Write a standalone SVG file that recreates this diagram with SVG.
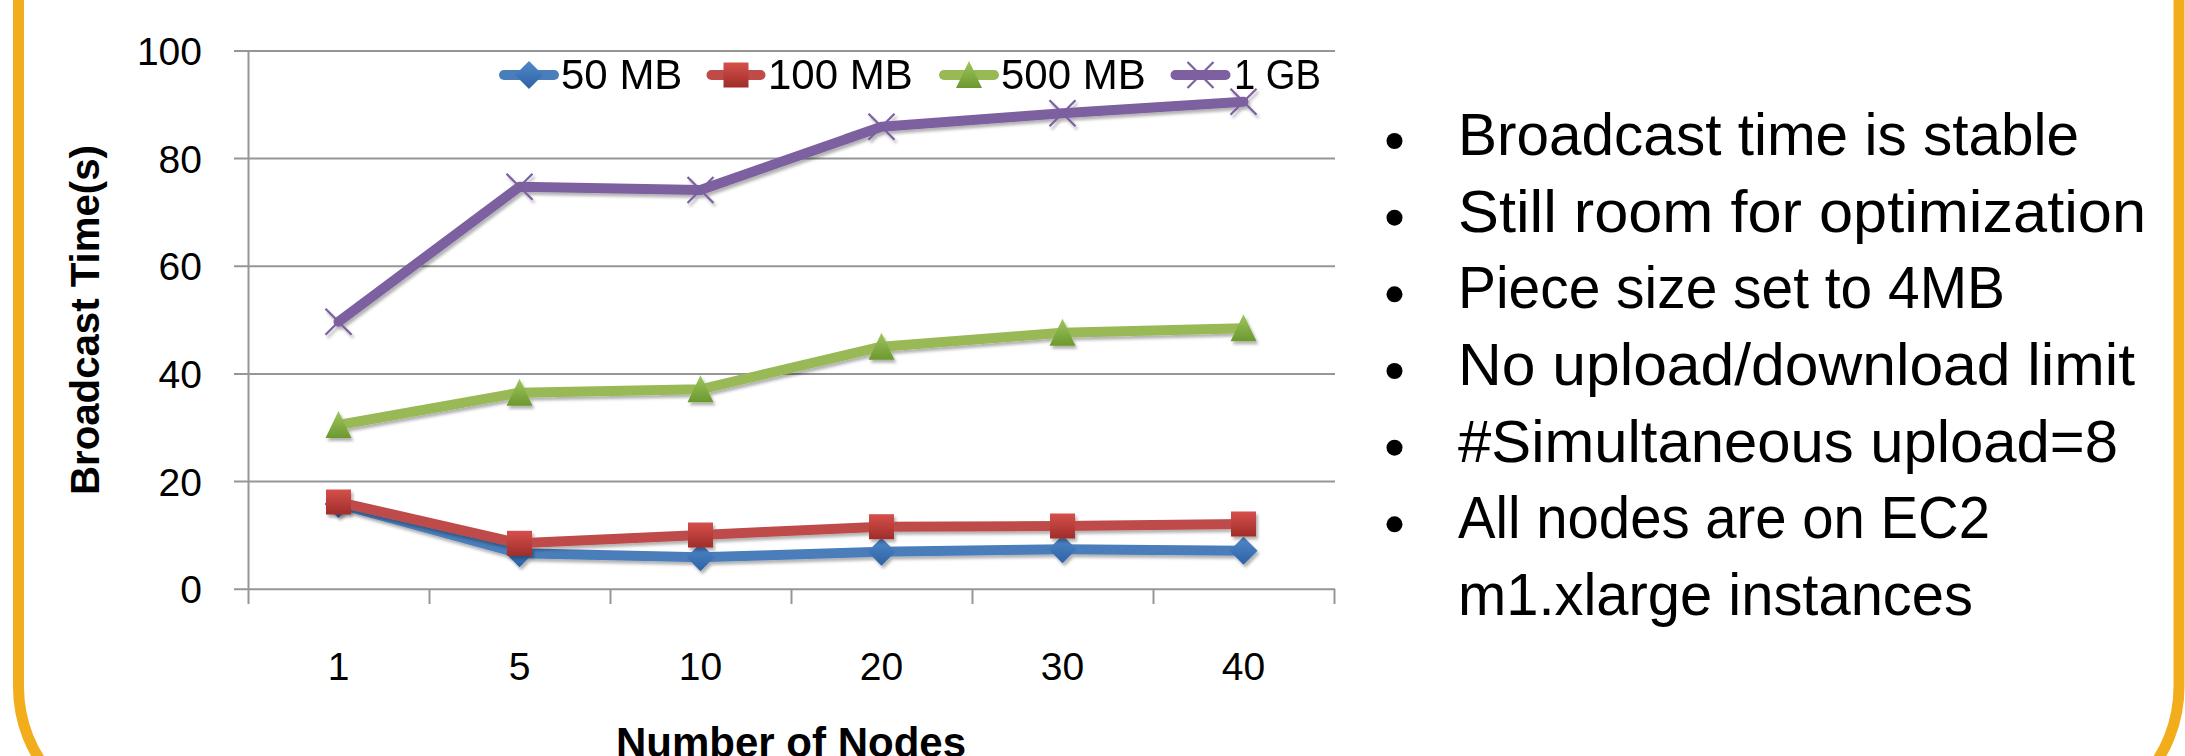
<svg xmlns="http://www.w3.org/2000/svg" width="2185" height="756" viewBox="0 0 2185 756">
<style>
.grid{stroke:#969696;stroke-width:2;fill:none}
.tick{font-family:"Liberation Sans",Arial,sans-serif;font-size:39px;fill:#000}
.leg{font-family:"Liberation Sans",Arial,sans-serif;font-size:42px;fill:#000}
.ttl{font-family:"Liberation Sans",Arial,sans-serif;font-weight:bold;fill:#000}
.bul{font-family:"Liberation Sans",Arial,sans-serif;font-size:59px;fill:#000}
.ln{fill:none;stroke-width:10;stroke-linejoin:round;stroke-linecap:round}
.lgl{fill:none;stroke-width:10;stroke-linecap:round}
</style>
<defs>
<linearGradient id="gB" x1="0" y1="0" x2="0" y2="1"><stop offset="0" stop-color="#5089cb"/><stop offset="1" stop-color="#2d62a3"/></linearGradient>
<linearGradient id="gR" x1="0" y1="0" x2="0" y2="1"><stop offset="0" stop-color="#d6504b"/><stop offset="1" stop-color="#9f2d2a"/></linearGradient>
<linearGradient id="gG" x1="0" y1="0" x2="0" y2="1"><stop offset="0" stop-color="#9fc65e"/><stop offset="1" stop-color="#6b982e"/></linearGradient>
<filter id="sh" x="-40%" y="-40%" width="180%" height="180%"><feDropShadow dx="2" dy="3" stdDeviation="1.8" flood-color="#000" flood-opacity="0.3"/></filter>
<path id="mD" d="M0,-14 L14,0 L0,14 L-14,0 Z" fill="url(#gB)"/>
<rect id="mS" x="-12.5" y="-12.5" width="25" height="25" fill="url(#gR)"/>
<path id="mT" d="M0,-14 L13,13 L-13,13 Z" fill="url(#gG)"/>
<path id="mX" d="M-13,-13 L13,13 M-13,13 L13,-13" stroke="#7b5fa0" stroke-width="2.2" fill="none"/>
</defs>
<rect width="2185" height="756" fill="#fff"/>
<g id="frame"><rect x="18.5" y="-400" width="2160.5" height="1222" rx="135" ry="135" fill="none" stroke="#f1ad1b" stroke-width="11"/></g>
<g id="chart">
<g id="gridlines">
<line class="grid" x1="234" y1="50.9" x2="1335" y2="50.9"/>
<line class="grid" x1="234" y1="158.6" x2="1335" y2="158.6"/>
<line class="grid" x1="234" y1="266.2" x2="1335" y2="266.2"/>
<line class="grid" x1="234" y1="373.9" x2="1335" y2="373.9"/>
<line class="grid" x1="234" y1="481.6" x2="1335" y2="481.6"/>
<line class="grid" x1="234" y1="589.3" x2="1335" y2="589.3"/>
<line class="grid" x1="248.5" y1="50" x2="248.5" y2="604"/>
<line class="grid" x1="429.5" y1="589" x2="429.5" y2="604"/>
<line class="grid" x1="610.5" y1="589" x2="610.5" y2="604"/>
<line class="grid" x1="791.5" y1="589" x2="791.5" y2="604"/>
<line class="grid" x1="972.5" y1="589" x2="972.5" y2="604"/>
<line class="grid" x1="1153.5" y1="589" x2="1153.5" y2="604"/>
<line class="grid" x1="1334.5" y1="589" x2="1334.5" y2="604"/>
</g>
<g id="ylabels" class="tick" text-anchor="end">
<text x="202" y="65">100</text>
<text x="202" y="172.6">80</text>
<text x="202" y="280.2">60</text>
<text x="202" y="387.9">40</text>
<text x="202" y="495.6">20</text>
<text x="202" y="603.3">0</text>
</g>
<g id="xlabels" class="tick" text-anchor="middle">
<text x="338.5" y="680">1</text>
<text x="519.5" y="680">5</text>
<text x="700.5" y="680">10</text>
<text x="881.5" y="680">20</text>
<text x="1062.5" y="680">30</text>
<text x="1243.5" y="680">40</text>
</g>
<text class="ttl" x="791" y="757" font-size="42" text-anchor="middle">Number of Nodes</text>
<text class="ttl" transform="translate(99,320) rotate(-90)" font-size="41" text-anchor="middle" textLength="350" lengthAdjust="spacingAndGlyphs">Broadcast Time(s)</text>
<g id="connectors">
<g id="s50" filter="url(#sh)">
<polyline class="ln" stroke="#4a7ebb" points="338.5,504 519.5,553.3 700.5,557.3 881.5,551.7 1062.5,549.3 1243.5,550.7"/>
<use href="#mD" x="338.5" y="504"/><use href="#mD" x="519.5" y="553.3"/><use href="#mD" x="700.5" y="557.3"/><use href="#mD" x="881.5" y="551.7"/><use href="#mD" x="1062.5" y="549.3"/><use href="#mD" x="1243.5" y="550.7"/>
</g>
<g id="s100" filter="url(#sh)">
<polyline class="ln" stroke="#be4b48" points="338.5,502 519.5,543.3 700.5,535 881.5,526.7 1062.5,526 1243.5,524"/>
<use href="#mS" x="338.5" y="502"/><use href="#mS" x="519.5" y="543.3"/><use href="#mS" x="700.5" y="535"/><use href="#mS" x="881.5" y="526.7"/><use href="#mS" x="1062.5" y="526"/><use href="#mS" x="1243.5" y="524"/>
</g>
<g id="s500" filter="url(#sh)">
<polyline class="ln" stroke="#98b954" points="338.5,425 519.5,392.7 700.5,389.3 881.5,346.7 1062.5,332.7 1243.5,328.3"/>
<use href="#mT" x="338.5" y="425"/><use href="#mT" x="519.5" y="392.7"/><use href="#mT" x="700.5" y="389.3"/><use href="#mT" x="881.5" y="346.7"/><use href="#mT" x="1062.5" y="332.7"/><use href="#mT" x="1243.5" y="328.3"/>
</g>
<g id="s1g" filter="url(#sh)">
<polyline class="ln" stroke="#7d60a0" points="338.5,321.7 519.5,186.7 700.5,190 881.5,126.7 1062.5,113.3 1243.5,101.7"/>
<use href="#mX" x="338.5" y="321.7"/><use href="#mX" x="519.5" y="186.7"/><use href="#mX" x="700.5" y="190"/><use href="#mX" x="881.5" y="126.7"/><use href="#mX" x="1062.5" y="113.3"/><use href="#mX" x="1243.5" y="101.7"/>
</g>
</g>
<g id="legend">
<g id="leg50"><line class="lgl" stroke="#4a7ebb" x1="504" y1="75" x2="554" y2="75"/><use href="#mD" x="529" y="75"/><text class="leg" x="561" y="89.3">50 MB</text></g>
<g id="leg100"><line class="lgl" stroke="#be4b48" x1="711.5" y1="75" x2="760.5" y2="75"/><use href="#mS" x="736" y="75"/><text class="leg" x="768" y="89.3">100 MB</text></g>
<g id="leg500"><line class="lgl" stroke="#98b954" x1="944" y1="75" x2="994" y2="75"/><use href="#mT" x="969" y="75"/><text class="leg" x="1001" y="89.3">500 MB</text></g>
<g id="leg1g"><line class="lgl" stroke="#7d60a0" x1="1175.5" y1="75" x2="1225.5" y2="75"/><use href="#mX" x="1200.5" y="75"/><text class="leg" x="1234" y="89.3" textLength="87" lengthAdjust="spacingAndGlyphs">1 GB</text></g>
</g>
</g>
<g id="bullets">
<g fill="#000">
<circle cx="1394.5" cy="141" r="8"/>
<circle cx="1394.5" cy="217.7" r="8"/>
<circle cx="1394.5" cy="294.3" r="8"/>
<circle cx="1394.5" cy="371" r="8"/>
<circle cx="1394.5" cy="447.7" r="8"/>
<circle cx="1394.5" cy="524.3" r="8"/>
</g>
<g class="bul">
<text x="1458" y="155" textLength="621" lengthAdjust="spacingAndGlyphs">Broadcast time is stable</text>
<text x="1458" y="231.7" textLength="688" lengthAdjust="spacingAndGlyphs">Still room for optimization</text>
<text x="1458" y="308.3" textLength="547" lengthAdjust="spacingAndGlyphs">Piece size set to 4MB</text>
<text x="1458" y="385" textLength="677" lengthAdjust="spacingAndGlyphs">No upload/download limit</text>
<text x="1458" y="461.7" textLength="660" lengthAdjust="spacingAndGlyphs">#Simultaneous upload=8</text>
<text x="1458" y="538.3" textLength="532" lengthAdjust="spacingAndGlyphs">All nodes are on EC2</text>
<text x="1458" y="615" textLength="515" lengthAdjust="spacingAndGlyphs">m1.xlarge instances</text>
</g>
</g>
</svg>
